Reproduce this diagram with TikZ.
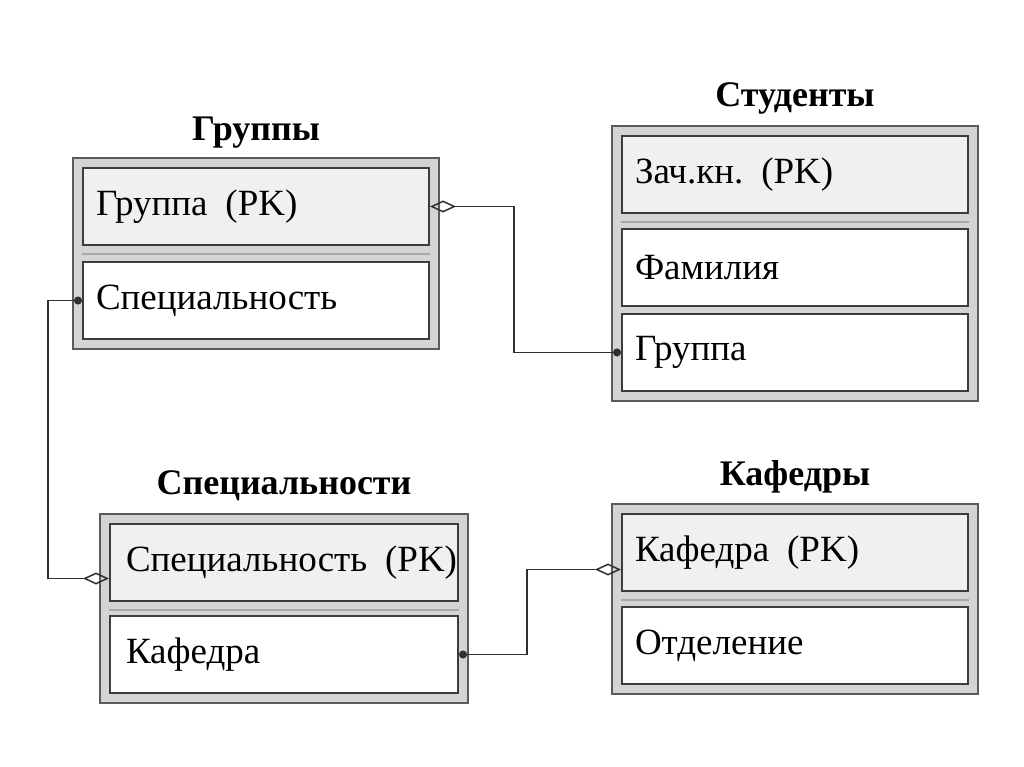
\documentclass[tikz,border=0pt]{standalone}
\usepackage{fontspec}
\setmainfont{Liberation Serif}
\usetikzlibrary{arrows.meta,fit,backgrounds}

\definecolor{boxgray}{HTML}{D4D4D4}
\definecolor{boxline}{HTML}{5A5A5A}
\definecolor{cellline}{HTML}{3C3C3C}
\definecolor{keyfill}{HTML}{F0F0F0}
\definecolor{sepgray}{HTML}{A8A8A8}
\definecolor{linkcol}{HTML}{303030}

\begin{document}
\frenchspacing
\begin{tikzpicture}[x=1pt,y=-1pt,
  cell/.style={draw=cellline, line width=2pt, minimum height=77pt,
    text width=320pt, inner xsep=13pt, align=left, anchor=north west,
    font=\fontsize{37}{44}\selectfont},
  keycell/.style={cell, fill=keyfill},
  fieldcell/.style={cell, fill=white},
  tablebox/.style={draw=boxline, fill=boxgray, line width=2pt, inner sep=9pt},
  tabletitle/.style={anchor=base, font=\fontsize{36}{43}\selectfont\bfseries},
  sepline/.style={draw=sepgray, line width=1.5pt},
  link/.style={draw=linkcol, line width=1.5pt,
    {Diamond[open,length=26pt,width=12pt]}-{Circle[length=8pt]}}]

\useasboundingbox (0,0) rectangle (1024,767);

% Группы
\node[keycell] (grpKey) at (82,167) {Группа\hspace{0.15em} (PK)};
\node[fieldcell] (grpSpec) at (82,261) {Специальность};
\begin{scope}[on background layer]
\node[tablebox, fit=(grpKey)(grpSpec)] (grp) {};
\end{scope}
\draw[sepline] ([yshift=-8pt]grpKey.south west) -- ([yshift=-8pt]grpKey.south east);
\node[tabletitle] (grpTitle) at ([yshift=16pt]grp.north) {Группы};

% Студенты
\node[keycell] (stKey) at (621,135) {Зач.кн.\hspace{0.15em} (PK)};
\node[fieldcell] (stName) at (621,228) {Фамилия};
\node[fieldcell] (stGroup) at (621,313) {Группа};
\begin{scope}[on background layer]
\node[tablebox, fit=(stKey)(stGroup)] (st) {};
\end{scope}
\draw[sepline] ([yshift=-8pt]stKey.south west) -- ([yshift=-8pt]stKey.south east);
\node[tabletitle] (stTitle) at ([yshift=18pt]st.north) {Студенты};

% Специальности
\node[keycell, inner xsep=16pt, text width=316pt] (spKey) at (109,523) {\mbox{Специальность\hspace{0.15em} (PK)}};
\node[fieldcell, inner xsep=16pt, text width=316pt] (spDept) at (109,615) {Кафедра};
\begin{scope}[on background layer]
\node[tablebox, fit=(spKey)(spDept)] (sp) {};
\end{scope}
\draw[sepline] ([yshift=-8pt]spKey.south west) -- ([yshift=-8pt]spKey.south east);
\node[tabletitle] (spTitle) at ([yshift=19pt]sp.north) {Специальности};

% Кафедры
\node[keycell] (dpKey) at (621,513) {Кафедра\hspace{0.15em} (PK)};
\node[fieldcell] (dpSection) at (621,606) {Отделение};
\begin{scope}[on background layer]
\node[tablebox, fit=(dpKey)(dpSection)] (dp) {};
\end{scope}
\draw[sepline] ([yshift=-8pt]dpKey.south west) -- ([yshift=-8pt]dpKey.south east);
\node[tabletitle] (dpTitle) at ([yshift=18pt]dp.north) {Кафедры};

% связи
\draw[link] (grpKey.east) -- ++(84,0) |- (stGroup.west);
\draw[link] ([yshift=-16pt]spKey.west) -- ++(-61,0) |- (grpSpec.west);
\draw[link] ([yshift=-17pt]dpKey.west) -- ++(-94,0) |- (spDept.east);

\end{tikzpicture}
\end{document}
